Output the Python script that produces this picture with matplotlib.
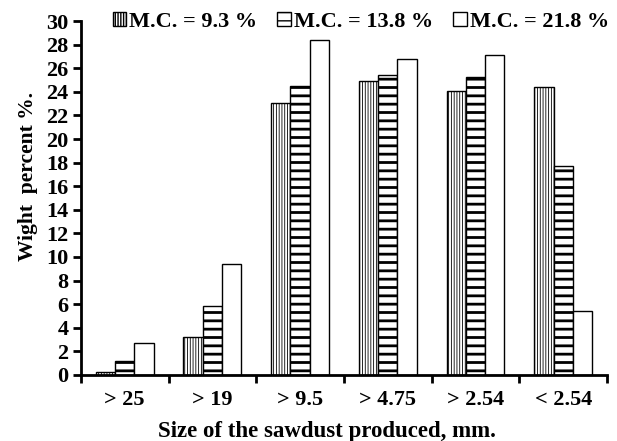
import matplotlib.pyplot as plt
import numpy as np

plt.rcParams['font.family'] = 'Liberation Serif'
plt.rcParams['font.weight'] = 'bold'
plt.rcParams['hatch.linewidth'] = 1.0

categories = ['> 25', '> 19', '> 9.5', '> 4.75', '> 2.54', '< 2.54']
mc_93 = [0.2, 3.2, 23.1, 24.9, 24.1, 24.4]
mc_138 = [1.2, 5.8, 24.5, 25.4, 25.3, 17.7]
mc_218 = [2.7, 9.4, 28.4, 26.8, 27.1, 5.4]
labels = ['M.C. = 9.3 %', 'M.C. = 13.8 %', 'M.C. = 21.8 %']

fig = plt.figure(figsize=(6.17, 4.41), dpi=100)
ax = fig.add_axes([0.131, 0.150, 0.853, 0.802])

x = np.arange(len(categories))
w = 0.22
series = [mc_93, mc_138, mc_218]
hatches = ['||||||', '--', '']
hatch_lw = [0.6, 2.0, 1.0]
for i, (vals, h, lab) in enumerate(zip(series, hatches, labels)):
    bars = ax.bar(x + (i - 1) * w, vals, w, color='white', edgecolor='black',
                  linewidth=1.0, hatch=h, label=lab)
    for b in bars:
        if hasattr(b, 'set_hatch_linewidth'):
            b.set_hatch_linewidth(hatch_lw[i])

ax.set_xlim(-0.5, 5.5)
ax.set_ylim(0, 30)
ax.set_yticks(np.arange(0, 31, 2))
ax.set_xticks(x)
ax.set_xticklabels(categories)
ax.set_xticks(np.arange(-0.5, 6, 1), minor=True)
ax.tick_params(axis='x', which='major', length=0, pad=11, labelsize=16)
ax.tick_params(axis='x', which='minor', length=6, width=2, direction='out')
ax.tick_params(axis='y', length=6, width=2, direction='out', labelsize=16, pad=3)

for s in ['top', 'right']:
    ax.spines[s].set_visible(False)
for s in ['left', 'bottom']:
    ax.spines[s].set_linewidth(2)

ax.set_ylabel('Wight  percent %.', fontsize=15.5, fontweight='bold')
ax.set_xlabel('Size of the sawdust produced, mm.', fontsize=16.5, fontweight='bold')
ax.yaxis.set_label_coords(-0.082, 0.56)
ax.xaxis.set_label_coords(0.468, -0.13)

leg = fig.legend(loc='upper center', bbox_to_anchor=(0.585, 0.993), ncol=3, frameon=False,
                 fontsize=16, handlelength=0.6, handleheight=0.6, handletextpad=0.15,
                 columnspacing=0.9, borderaxespad=0.0)

fig.savefig('out.png', dpi=100)
